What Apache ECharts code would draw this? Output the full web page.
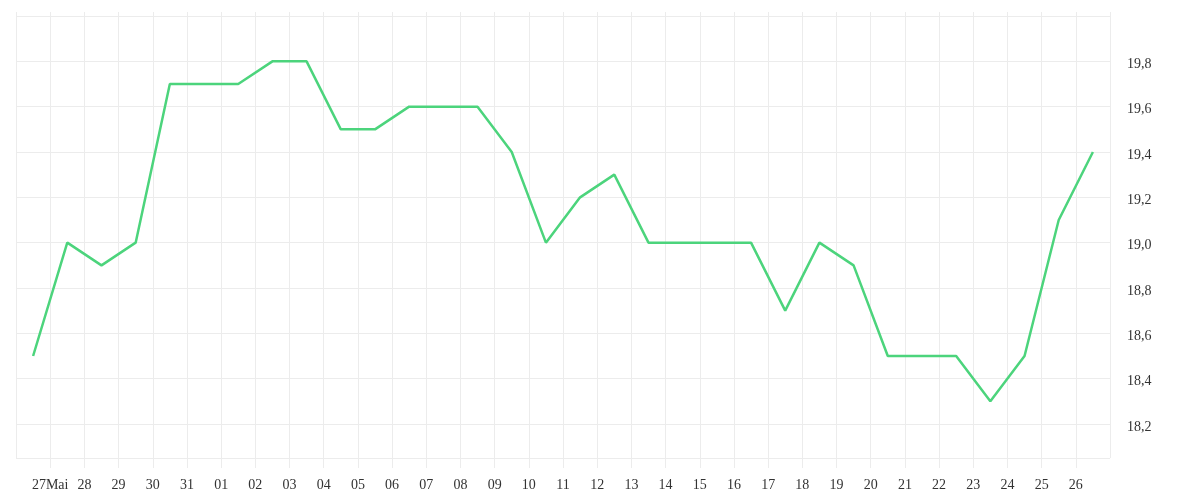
<!DOCTYPE html>
<html>
<head>
<meta charset="utf-8">
<script src="https://cdn.jsdelivr.net/npm/echarts@6/dist/echarts.min.js"></script>
<style>
html,body{margin:0;padding:0;background:#fff;}
#chart{width:1200px;height:500px;}
</style>
</head>
<body>
<div id="chart"></div>
<script>
// Tick labels at day boundaries (positions 1..31)
var dayLabels = ["27Mai","28","29","30","31","01","02","03","04","05","06","07","08","09","10","11","12","13","14","15","16","17","18","19","20","21","22","23","24","25","26"];
// Daily values (one per day, plotted mid-day)
var values = [18.5,19.0,18.9,19.0,19.7,19.7,19.7,19.8,19.8,19.5,19.5,19.6,19.6,19.6,19.4,19.0,19.2,19.3,19.0,19.0,19.0,19.0,18.7,19.0,18.9,18.5,18.5,18.5,18.3,18.5,19.1,19.4];

var seriesData = values.map(function(v, i){ return [i + 0.5, v]; });
var gridColor = '#ececec';
var font = 'Liberation Serif';

var chart = echarts.init(document.getElementById('chart'));
chart.setOption({
  animation: false,
  grid: {left: 16, right: 90, top: 16, bottom: 42},
  xAxis: [{
    type: 'value',
    min: 0, max: values.length, interval: 1,
    axisLine: {show: false},
    axisTick: {show: true, length: 10, lineStyle: {color: gridColor}},
    splitLine: {show: true, lineStyle: {color: gridColor, width: 1}},
    axisLabel: {
      margin: 20, color: '#333', fontFamily: font, fontSize: 14,
      showMinLabel: false, showMaxLabel: false,
      formatter: function(v){ var i = Math.round(v); return (i >= 1 && i <= dayLabels.length) ? dayLabels[i-1] : ''; }
    }
  }, {
    type: 'value', position: 'top',
    min: 0, max: values.length, interval: 1,
    axisLine: {show: false},
    axisTick: {show: true, length: 4, lineStyle: {color: gridColor}},
    splitLine: {show: false},
    axisLabel: {show: false}
  }],
  yAxis: {
    type: 'value', position: 'right',
    min: 18.05, max: 20.0, splitNumber: 10,
    axisLine: {show: false},
    axisTick: {show: false},
    splitLine: {show: true, lineStyle: {color: gridColor, width: 1}},
    axisLabel: {
      margin: 17, color: '#333', fontFamily: font, fontSize: 14,
      verticalAlign: 'top', lineHeight: 6,
      showMinLabel: false, showMaxLabel: false,
      formatter: function(v){ return v.toFixed(1).replace('.', ','); }
    }
  },
  series: [{
    type: 'line',
    data: seriesData,
    symbol: 'none',
    lineStyle: {color: '#4cd47c', width: 2.5},
    itemStyle: {color: '#4cd47c'}
  }]
});
</script>
</body>
</html>
